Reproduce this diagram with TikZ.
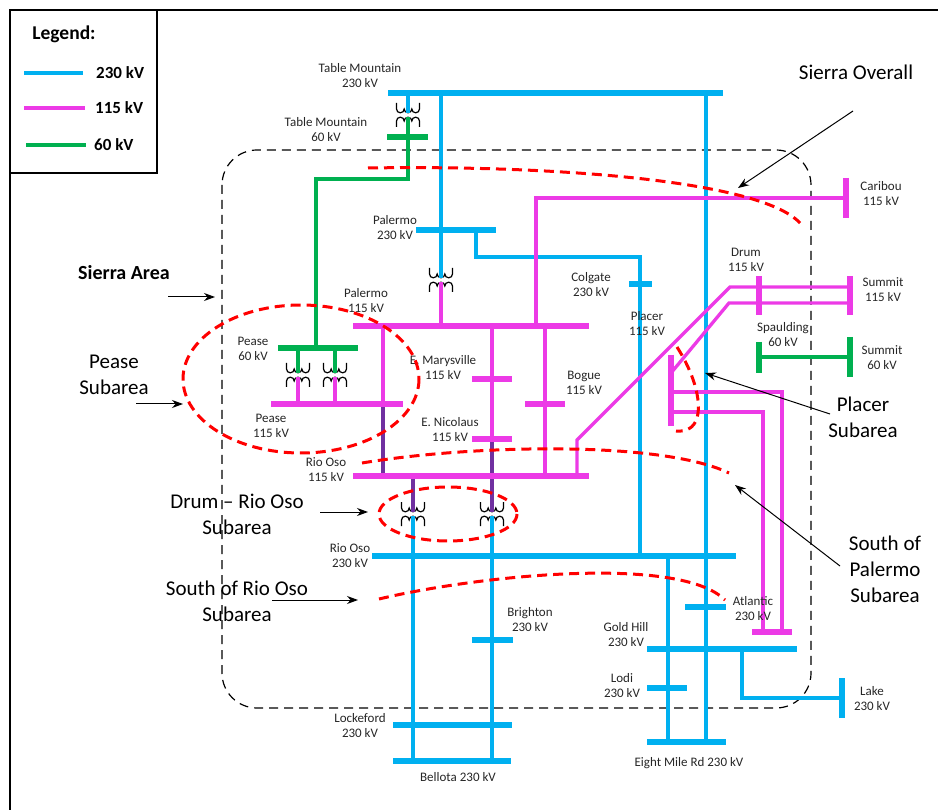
\documentclass[tikz,border=0pt]{standalone}
\usepackage{fontspec}
\setmainfont{Carlito}
\usetikzlibrary{arrows.meta}
\definecolor{kvA}{RGB}{0,176,240}
\definecolor{kvB}{RGB}{236,58,230}
\definecolor{kvC}{RGB}{0,176,80}
\definecolor{kvP}{RGB}{112,48,160}
\definecolor{subred}{RGB}{255,0,0}
\tikzset{
  busbar/.style={line width=6.5pt},
  feeder/.style={line width=3.3pt},
  lbl/.style={font=\fontsize{13}{15}\selectfont, align=center, inner sep=0pt, text=black!85},
  bigl/.style={font=\fontsize{21}{26}\selectfont, align=center, inner sep=0pt},
  subarea/.style={draw=subred, line width=3pt, dash pattern=on 10pt off 6pt},
  ptr/.style={-{Stealth[length=11pt,width=8pt]}, line width=1pt},
  coil/.style={line width=1.2pt},
  xfmr/.pic={
    \draw[coil] (-11.5,-12) -- (-11.5,-6)
      arc[start angle=180,end angle=0,radius=3.833]
      arc[start angle=180,end angle=0,radius=3.833]
      arc[start angle=180,end angle=0,radius=3.833] -- (11.5,-12);
    \draw[coil] (-11.5,12) -- (-11.5,6)
      arc[start angle=180,end angle=360,radius=3.833]
      arc[start angle=180,end angle=360,radius=3.833]
      arc[start angle=180,end angle=360,radius=3.833] -- (11.5,12);
  }
}
\begin{document}
\begin{tikzpicture}[x=1pt,y=-1pt]
\useasboundingbox (0,0) rectangle (938,810);
% outer frame and legend
\draw[line width=1.5pt] (10,10) rectangle (960,830);
\draw[line width=1.5pt] (10,10) rectangle (157,173);
\node[font=\fontsize{19.5}{22}\selectfont\bfseries, inner sep=0pt] (leg) at (64,34) {Legend:};
\draw[kvA, line width=3.5pt] (24,73) -- (83,73);
\node[font=\fontsize{17}{20}\selectfont\bfseries, anchor=west, inner sep=0pt] (legA) at (96,73) {230 kV};
\draw[kvB, line width=3.5pt] (24,108) -- (85,108);
\node[font=\fontsize{17}{20}\selectfont\bfseries, anchor=west, inner sep=0pt] (legB) at (95,108) {115 kV};
\draw[kvC, line width=3.5pt] (26,145) -- (86,145);
\node[font=\fontsize{17}{20}\selectfont\bfseries, anchor=west, inner sep=0pt] (legC) at (94,145) {60 kV};

% Sierra area boundary
\draw[dash pattern=on 9pt off 6pt, line width=1.2pt, rounded corners=35pt] (222,150) rectangle (811,708);

% transformers
\pic at (408,115) {xfmr};
\pic at (441,280) {xfmr};
\pic at (298,375) {xfmr};
\pic at (335,375) {xfmr};
\pic at (413,514) {xfmr};
\pic at (492,514) {xfmr};

% 230 kV feeders
\draw[kvA, feeder] (408,93) -- (408,112.8);
\draw[kvA, feeder] (441,93) -- (441,277.8);
\draw[kvA, feeder] (476,230) -- (476,257) -- (640,257) -- (640,556);
\draw[kvA, feeder] (706,93) -- (706,742);
\draw[kvA, feeder] (668,556) -- (668,742);
\draw[kvA, feeder] (742,649) -- (742,698) -- (842,698);
\draw[kvA, feeder] (413,516.2) -- (413,761);
\draw[kvA, feeder] (492,516.2) -- (492,761);

% 115 kV feeders
\draw[kvB, feeder] (441,282.2) -- (441,326);
\draw[kvB, feeder] (383,326) -- (383,402);
\draw[kvP, feeder] (383,402) -- (383,476);
\draw[kvB, feeder] (492,326) -- (492,439);
\draw[kvP, feeder] (492,439) -- (492,511.8);
\draw[kvP, feeder] (413,476) -- (413,511.8);
\draw[kvB, feeder] (536,326) -- (536,198) -- (846,198);
\draw[kvB, feeder] (545,326) -- (545,476);
\draw[kvB, feeder] (850,287) -- (730,287) -- (577,440) -- (577,476);
\draw[kvB, feeder] (850,303) -- (729,303) -- (671,373);
\draw[kvB, feeder] (671,392) -- (782,392) -- (782,632);
\draw[kvB, feeder] (671,412) -- (763,412) -- (763,632);
\draw[kvB, feeder] (298,377.2) -- (298,404);
\draw[kvB, feeder] (335,377.2) -- (335,404);

% 60 kV feeders
\draw[kvC, feeder] (408,117.2) -- (408,179) -- (316,179) -- (316,348);
\draw[kvC, feeder] (298,348) -- (298,372.8);
\draw[kvC, feeder] (335,348) -- (335,372.8);
\draw[kvC, feeder] (759,357) -- (850,357);

% 230 kV buses
\draw[kvA, busbar] (388,93) -- (723,93);
\draw[kvA, busbar] (416,230) -- (496,230);
\draw[kvA, busbar] (629,284) -- (652,284);
\draw[kvA, busbar] (372,556) -- (736,556);
\draw[kvA, busbar] (472,640) -- (513,640);
\draw[kvA, busbar] (685,607) -- (726,607);
\draw[kvA, busbar] (647,649) -- (797,649);
\draw[kvA, busbar] (647,688) -- (687,688);
\draw[kvA, busbar] (842,678) -- (842,718);
\draw[kvA, busbar] (393,725) -- (512,725);
\draw[kvA, busbar] (393,761) -- (511,761);
\draw[kvA, busbar] (647,742) -- (726,742);
% 115 kV buses
\draw[kvB, busbar] (353,326) -- (589,326);
\draw[kvB, busbar] (271,404) -- (403,404);
\draw[kvB, busbar] (472,379) -- (512,379);
\draw[kvB, busbar] (472,439) -- (512,439);
\draw[kvB, busbar] (525,404) -- (565,404);
\draw[kvB, busbar] (353,476) -- (589,476);
\draw[kvB, busbar] (846,178) -- (846,218);
\draw[kvB, busbar] (759,276) -- (759,315);
\draw[kvB, busbar] (850,276) -- (850,315);
\draw[kvB, busbar] (671,355) -- (671,426);
\draw[kvB, busbar] (752,632) -- (792,632);
% 60 kV buses
\draw[kvC, busbar] (387,137) -- (428,137);
\draw[kvC, busbar] (278,348) -- (358,348);
\draw[kvC, busbar] (759,342) -- (759,373);
\draw[kvC, busbar] (850,337) -- (850,377);

% bus labels
\node[lbl] (tm230) at (360,76) {Table Mountain\\230 kV};
\node[lbl] (tm60) at (326,130) {Table Mountain\\60 kV};
\node[lbl] (pal230) at (395,228) {Palermo\\230 kV};
\node[lbl] (colg) at (591,285) {Colgate\\230 kV};
\node[lbl] (carib) at (881,194) {Caribou\\115 kV};
\node[lbl] (drum) at (746,260) {Drum\\115 kV};
\node[lbl] (sum115) at (883,290) {Summit\\115 kV};
\node[lbl] (spaul) at (783,335) {Spaulding\\60 kV};
\node[lbl] (sum60) at (882,358) {Summit\\60 kV};
\node[lbl] (placer) at (647,324) {Placer\\115 kV};
\node[lbl] (pal115) at (366,301) {Palermo\\115 kV};
\node[lbl] (pea60) at (253,349) {Pease\\60 kV};
\node[lbl] (pea115) at (271,426) {Pease\\115 kV};
\node[lbl] (emary) at (443,368) {E. Marysville\\115 kV};
\node[lbl] (enico) at (450,430) {E. Nicolaus\\115 kV};
\node[lbl] (bogue) at (584,383) {Bogue\\115 kV};
\node[lbl] (ro115) at (326,470) {Rio Oso\\115 kV};
\node[lbl] (ro230) at (350,556) {Rio Oso\\230 kV};
\node[lbl] (bright) at (530,620) {Brighton\\230 kV};
\node[lbl] (atl) at (753,609) {Atlantic\\230 kV};
\node[lbl] (gold) at (626,635) {Gold Hill\\230 kV};
\node[lbl] (lodi) at (622,686) {Lodi\\230 kV};
\node[lbl] (lake) at (872,699) {Lake\\230 kV};
\node[lbl] (lock) at (360,726) {Lockeford\\230 kV};
\node[lbl] (bell) at (458,777) {Bellota 230 kV};
\node[lbl] (eight) at (689,763) {Eight Mile Rd 230 kV};

% subarea outlines
\draw[subarea] (368,168) .. controls (550,165) and (760,180) .. (800,223);
\draw[subarea] (301,379) ellipse [x radius=118, y radius=74];
\draw[subarea] (677,347) .. controls (693,372) and (702,400) .. (697,418) .. controls (694,428) and (686,432) .. (676,431);
\draw[subarea] (362,463) .. controls (470,445) and (660,440) .. (729,473);
\draw[subarea] (448,514) ellipse [x radius=69, y radius=27];
\draw[subarea] (379,599) .. controls (480,575) and (680,555) .. (725,600);

% subarea captions and pointers
\node[bigl] (cOver) at (856,72) {Sierra Overall};
\node[bigl, font=\fontsize{20}{24}\selectfont\bfseries] (cArea) at (124,273) {Sierra Area};
\node[bigl] (cPease) at (114,375) {Pease\\Subarea};
\node[bigl] (cDrum) at (237,514) {Drum -- Rio Oso\\Subarea};
\node[bigl] (cSRO) at (237,601) {South of Rio Oso\\Subarea};
\node[bigl] (cPlacer) at (863,417) {Placer\\Subarea};
\node[bigl] (cSPal) at (885,569) {South of\\Palermo\\Subarea};
\coordinate (tOver) at (738,188);
\coordinate (tArea) at (215,297);
\coordinate (tPease) at (183,404);
\coordinate (tDrum) at (368,512);
\coordinate (tSRO) at (358,600);
\coordinate (tPlacer) at (705,373);
\coordinate (tSPal) at (735,485);
\draw[ptr] (853,111) -- (tOver);
\draw[ptr] (168,297) -- (tArea);
\draw[ptr] (136,404) -- (tPease);
\draw[ptr] (320,512) -- (tDrum);
\draw[ptr] (272,600) -- (tSRO);
\draw[ptr] (830,414) -- (tPlacer);
\draw[ptr] (840,566) -- (tSPal);
\end{tikzpicture}
\end{document}
